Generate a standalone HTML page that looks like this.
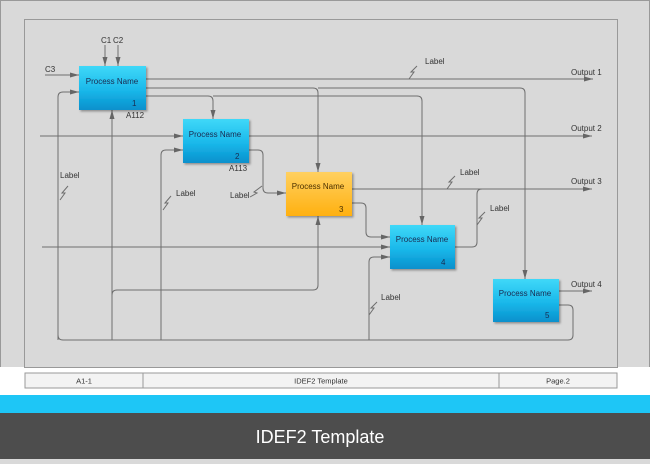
<!DOCTYPE html>
<html><head><meta charset="utf-8"><style>
body{margin:0;width:650px;height:459px;overflow:hidden;background:#d9d9d9;font-family:"Liberation Sans",sans-serif}
</style></head><body>
<svg width="650" height="459" viewBox="0 0 650 459" xmlns="http://www.w3.org/2000/svg" font-family="Liberation Sans, sans-serif">
<defs>
<linearGradient id="b" x1="0" y1="0" x2="0" y2="1"><stop offset="0" stop-color="#3fd8f8"/><stop offset="0.55" stop-color="#1ab8ea"/><stop offset="1" stop-color="#0790cc"/></linearGradient>
<linearGradient id="o" x1="0" y1="0" x2="0" y2="1"><stop offset="0" stop-color="#ffd060"/><stop offset="1" stop-color="#ffb010"/></linearGradient>
<marker id="a" markerWidth="10" markerHeight="6" refX="9" refY="3" orient="auto" markerUnits="userSpaceOnUse"><path d="M0,0.5 L9,3 L0,5.5z" fill="#666"/></marker>
<filter id="s"><feDropShadow dx="1.5" dy="1.5" stdDeviation="1" flood-opacity="0.35"/></filter>
</defs>
<rect x="0" y="0" width="650" height="367" fill="#d9d9d9"/>
<rect x="0.5" y="0.5" width="649" height="367" fill="none" stroke="#999"/>
<rect x="0" y="367" width="650" height="28" fill="#fff"/>
<rect x="24.5" y="19.5" width="593" height="348" fill="none" stroke="#999"/>
<rect x="25" y="373" width="592" height="15" fill="#f3f3f3" stroke="#999"/>
<line x1="143" y1="373" x2="143" y2="388" stroke="#999"/>
<line x1="499" y1="373" x2="499" y2="388" stroke="#999"/>
<g font-size="7.5" fill="#333" text-anchor="middle"><text x="84" y="383.5">A1-1</text><text x="321" y="383.5">IDEF2 Template</text><text x="558" y="383.5">Page.2</text></g>
<rect x="0" y="395" width="650" height="18" fill="#1ec6f6"/>
<rect x="0" y="413" width="650" height="46" fill="#4d4d4d"/>
<text x="320" y="443" font-size="18" fill="#fff" text-anchor="middle">IDEF2 Template</text>

<g fill="none" stroke="#6e6e6e" stroke-width="1">
<line x1="105" y1="45" x2="105" y2="66" marker-end="url(#a)"/>
<line x1="118" y1="45" x2="118" y2="66" marker-end="url(#a)"/>
<line x1="45" y1="75" x2="79" y2="75" marker-end="url(#a)"/>
<line x1="146" y1="79" x2="593" y2="79" marker-end="url(#a)"/>
<path d="M146 88 H313 Q318 88 318 93 V172" marker-end="url(#a)"/>
<path d="M318 88 H520 Q525 88 525 93 V279" marker-end="url(#a)"/>
<path d="M146 96 H208 Q213 96 213 101 V119" marker-end="url(#a)"/>
<path d="M213 96 H417 Q422 96 422 101 V225" marker-end="url(#a)"/>
<path d="M58 340 V97 Q58 92 63 92 H79" marker-end="url(#a)"/>
<line x1="112" y1="340" x2="112" y2="110" marker-end="url(#a)"/>
<path d="M112 295 Q112 290 117 290 H313 Q318 290 318 285 V216" marker-end="url(#a)"/>
<line x1="40" y1="136" x2="183" y2="136" marker-end="url(#a)"/>
<line x1="249" y1="136" x2="592" y2="136" marker-end="url(#a)"/>
<path d="M161 340 V155 Q161 150 166 150 H183" marker-end="url(#a)"/>
<path d="M249 150 H258 Q263 150 263 155 V188 Q263 193 268 193 H286" marker-end="url(#a)"/>
<line x1="352" y1="189" x2="592" y2="189" marker-end="url(#a)"/>
<path d="M352 203 H361 Q366 203 366 208 V232 Q366 237 371 237 H390" marker-end="url(#a)"/>
<line x1="42" y1="247" x2="390" y2="247" marker-end="url(#a)"/>
<path d="M455 247 H472 Q477 247 477 242 V194 Q477 189 482 189"/>
<path d="M369 340 V262 Q369 257 374 257 H390" marker-end="url(#a)"/>
<line x1="559" y1="291" x2="592" y2="291" marker-end="url(#a)"/>
<path d="M559 305 H568 Q573 305 573 310 V335 Q573 340 568 340 H63 Q58 340 58 335"/>
<path d="M409 79 L414 72 L411 72 L417 66"/>
<path d="M60 200 L65 193 L62 193 L68 186"/>
<path d="M163 210 L168 203 L165 203 L171 196"/>
<path d="M250 197 L257 193 L254 192 L262 186"/>
<path d="M447 189 L452 182 L449 182 L455 176"/>
<path d="M477 225 L482 218 L479 218 L485 212"/>
<path d="M369 315 L374 308 L371 308 L377 302"/>
</g>

<g filter="url(#s)">
<rect x="79" y="66" width="67" height="44" fill="url(#b)"/>
<rect x="183" y="119" width="66" height="44" fill="url(#b)"/>
<rect x="286" y="172" width="66" height="44" fill="url(#o)"/>
<rect x="390" y="225" width="65" height="44" fill="url(#b)"/>
<rect x="493" y="279" width="66" height="43" fill="url(#b)"/>
</g>
<g font-size="8" fill="#1a2a50" text-anchor="middle">
<text x="112" y="84">Process Name</text>
<text x="215" y="137">Process Name</text>
<text x="318" y="189" fill="#4a3000">Process Name</text>
<text x="422" y="242">Process Name</text>
<text x="525" y="296">Process Name</text>
</g>
<g font-size="8" fill="#1a2a50">
<text x="132" y="106">1</text><text x="235" y="159">2</text><text x="339" y="212" fill="#4a3000">3</text><text x="441" y="265">4</text><text x="545" y="318">5</text>
</g>
<g font-size="8" fill="#333">
<text x="101" y="43">C1</text><text x="113" y="43">C2</text><text x="45" y="72">C3</text>
<text x="126" y="118">A112</text><text x="229" y="171">A113</text>
<text x="571" y="75">Output 1</text><text x="571" y="131">Output 2</text><text x="571" y="184">Output 3</text><text x="571" y="287">Output 4</text>
<text x="425" y="64">Label</text><text x="60" y="178">Label</text><text x="176" y="196">Label</text><text x="230" y="198">Label</text>
<text x="460" y="175">Label</text><text x="490" y="211">Label</text><text x="381" y="300">Label</text>
</g>
</svg>
</body></html>
